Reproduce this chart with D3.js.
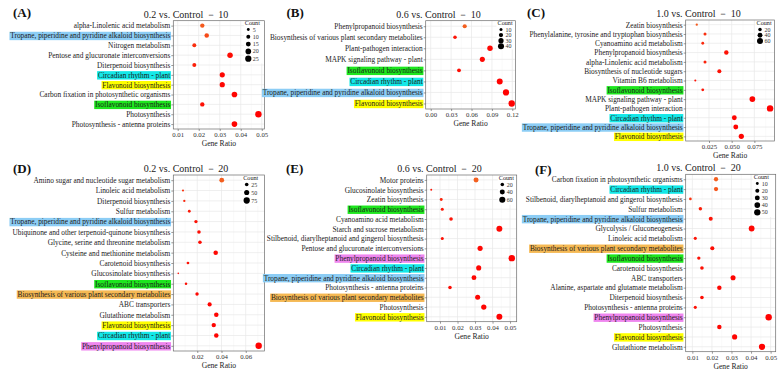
<!DOCTYPE html>
<html>
<head>
<meta charset="utf-8">
<script src="https://cdn.jsdelivr.net/npm/d3@7"></script>
<style>
  body { margin: 0; background: #fff; }
  svg { display: block; font-family: "Liberation Serif", "Times New Roman", serif; }
</style>
</head>
<body>
<div id="chart"></div>
<script>
// ---- data ----
const termsA = ["alpha-Linolenic acid metabolism", "Tropane, piperidine and pyridine alkaloid biosynthesis", "Nitrogen metabolism",
  "Pentose and glucuronate interconversions", "Diterpenoid biosynthesis", "Circadian rhythm - plant", "Flavonoid biosynthesis",
  "Carbon fixation in photosynthetic organisms", "Isoflavonoid biosynthesis", "Photosynthesis", "Photosynthesis - antenna proteins"];
const ratioA = [0.0217, 0.0238, 0.0179, 0.0349, 0.0179, 0.0312, 0.0312, 0.0370, 0.0217, 0.0484, 0.0370];
const countA = [12, 13, 10, 19, 10, 17, 17, 20, 12, 26, 20];
const padjA  = [0.042, 0.035, 0.022, 0.006, 0.015, 0.004, 0.004, 0.003, 0.008, 0.001, 0.002];

const termsB = ["Phenylpropanoid biosynthesis", "Biosynthesis of various plant secondary metabolites", "Plant-pathogen interaction",
  "MAPK signaling pathway - plant", "Isoflavonoid biosynthesis", "Circadian rhythm - plant",
  "Tropane, piperidine and pyridine alkaloid biosynthesis", "Flavonoid biosynthesis"];
const ratioB = [0.050, 0.0357, 0.0872, 0.0759, 0.0416, 0.1015, 0.1107, 0.1191];
const countB = [19, 14, 33, 29, 16, 39, 42, 45];
const padjB  = [0.045, 0.010, 0.004, 0.004, 0.006, 0.001, 0.001, 0.001];

const termsC = ["Zeatin biosynthesis", "Phenylalanine, tyrosine and tryptophan biosynthesis", "Cyanoamino acid metabolism",
  "Phenylpropanoid biosynthesis", "alpha-Linolenic acid metabolism", "Biosynthesis of nucleotide sugars", "Vitamin B6 metabolism",
  "Isoflavonoid biosynthesis", "MAPK signaling pathway - plant", "Plant-pathogen interaction", "Circadian rhythm - plant",
  "Tropane, piperidine and pyridine alkaloid biosynthesis", "Flavonoid biosynthesis"];
const ratioC = [0.0115, 0.0206, 0.0181, 0.0441, 0.0206, 0.0364, 0.0099, 0.0181, 0.0728, 0.0923, 0.0529, 0.0545, 0.0606];
const countC = [9, 15, 13, 33, 15, 27, 7, 13, 54, 68, 39, 40, 45];
const padjC  = [0.042, 0.022, 0.020, 0.008, 0.016, 0.008, 0.008, 0.010, 0.002, 0.001, 0.002, 0.002, 0.002];

const termsD = ["Amino sugar and nucleotide sugar metabolism", "Linoleic acid metabolism", "Diterpenoid biosynthesis", "Sulfur metabolism",
  "Tropane, piperidine and pyridine alkaloid biosynthesis", "Ubiquinone and other terpenoid-quinone biosynthesis",
  "Glycine, serine and threonine metabolism", "Cysteine and methionine metabolism", "Carotenoid biosynthesis",
  "Glucosinolate biosynthesis", "Isoflavonoid biosynthesis", "Biosynthesis of various plant secondary metabolites",
  "ABC transporters", "Glutathione metabolism", "Flavonoid biosynthesis", "Circadian rhythm - plant", "Phenylpropanoid biosynthesis"];
const ratioD = [0.0402, 0.0082, 0.0093, 0.0134, 0.0189, 0.0214, 0.0222, 0.0352, 0.0123, 0.0043, 0.0107, 0.0198, 0.0302, 0.0357, 0.0336, 0.0357, 0.0707];
const countD = [44, 9, 10, 15, 21, 24, 24, 39, 14, 5, 12, 22, 33, 39, 37, 39, 78];
const padjD  = [0.045, 0.025, 0.018, 0.012, 0.008, 0.006, 0.006, 0.004, 0.008, 0.006, 0.006, 0.004, 0.002, 0.002, 0.002, 0.002, 0.001];

const termsE = ["Motor proteins", "Glucosinolate biosynthesis", "Zeatin biosynthesis", "Isoflavonoid biosynthesis", "Cyanoamino acid metabolism",
  "Starch and sucrose metabolism", "Stilbenoid, diarylheptanoid and gingerol biosynthesis", "Pentose and glucuronate interconversions",
  "Phenylpropanoid biosynthesis", "Circadian rhythm - plant", "Tropane, piperidine and pyridine alkaloid biosynthesis",
  "Photosynthesis - antenna proteins", "Biosynthesis of various plant secondary metabolites", "Photosynthesis", "Flavonoid biosynthesis"];
const ratioE = [0.0306, 0.0050, 0.0107, 0.0113, 0.0163, 0.0439, 0.0113, 0.0329, 0.0510, 0.0321, 0.0294, 0.0157, 0.0315, 0.0350, 0.0439];
const countE = [40, 6, 14, 15, 21, 57, 15, 43, 66, 42, 38, 20, 41, 45, 57];
const padjE  = [0.045, 0.012, 0.018, 0.012, 0.010, 0.004, 0.008, 0.004, 0.001, 0.003, 0.003, 0.006, 0.003, 0.002, 0.001];

const termsF = ["Carbon fixation in photosynthetic organisms", "Circadian rhythm - plant", "Stilbenoid, diarylheptanoid and gingerol biosynthesis",
  "Sulfur metabolism", "Tropane, piperidine and pyridine alkaloid biosynthesis", "Glycolysis / Gluconeogenesis", "Linoleic acid metabolism",
  "Biosynthesis of various plant secondary metabolites", "Isoflavonoid biosynthesis", "Carotenoid biosynthesis", "ABC transporters",
  "Alanine, aspartate and glutamate metabolism", "Diterpenoid biosynthesis", "Photosynthesis - antenna proteins",
  "Phenylpropanoid biosynthesis", "Photosynthesis", "Flavonoid biosynthesis", "Glutathione metabolism"];
const ratioF = [0.0221, 0.0221, 0.0090, 0.0141, 0.0194, 0.0403, 0.0115, 0.0202, 0.0133, 0.0149, 0.0308, 0.0238, 0.0149, 0.0115, 0.0490, 0.0238, 0.0316, 0.0456];
const countF = [23, 23, 9, 15, 20, 42, 12, 21, 14, 16, 32, 25, 16, 12, 51, 25, 33, 48];
const padjF  = [0.045, 0.040, 0.025, 0.015, 0.010, 0.004, 0.010, 0.006, 0.008, 0.008, 0.003, 0.004, 0.006, 0.008, 0.001, 0.004, 0.002, 0.001];

// highlighted pathway labels per panel
const hlA = ["Tropane, piperidine and pyridine alkaloid biosynthesis", "Circadian rhythm - plant", "Flavonoid biosynthesis", "Isoflavonoid biosynthesis"];
const hlB = hlA;
const hlC = hlA;
const hlD = [...hlA, "Biosynthesis of various plant secondary metabolites", "Phenylpropanoid biosynthesis"];
const hlE = hlD;
const hlF = hlD;

const legendA = [5, 10, 15, 20, 25];
const legendB = [10, 20, 30, 40];
const legendC = [20, 40, 60];
const legendD = [25, 50, 75];
const legendE = [20, 40, 60];
const legendF = [10, 20, 30, 40, 50];

const ticksA = [0.01, 0.02, 0.03, 0.04, 0.05];
const ticksB = [0.00, 0.03, 0.06, 0.09, 0.12];
const ticksC = [0.025, 0.050, 0.075];
const ticksD = [0.02, 0.04, 0.06];
const ticksE = [0.01, 0.02, 0.03, 0.04, 0.05];
const ticksF = [0.01, 0.02, 0.03, 0.04, 0.05];

const hlColor = {
  "Tropane, piperidine and pyridine alkaloid biosynthesis": "#8ccdf5",
  "Circadian rhythm - plant": "#14e8e8",
  "Flavonoid biosynthesis": "#ffff00",
  "Isoflavonoid biosynthesis": "#1ee61e",
  "Biosynthesis of various plant secondary metabolites": "#f5b954",
  "Phenylpropanoid biosynthesis": "#ef86ef"
};

// ---- layout ----
const W = 780, H = 373;
const panels = [
  { tag: "(A)", title: "0.2 vs. Control \uFF0D 10", terms: termsA, ratio: ratioA, count: countA, padj: padjA, hl: hlA,
    legend: legendA, ticks: ticksA, fmt: ".2f", box: [173.3, 264.5, 20.7, 129], xDom: [0.0079, 0.0513],
    tagPos: [13, 17], lg: { x: 248.3, y: 23.5, step: 7.3 } },
  { tag: "(B)", title: "0.6 vs. Control \uFF0D 10", terms: termsB, ratio: ratioB, count: countB, padj: padjB, hl: hlB,
    legend: legendB, ticks: ticksB, fmt: ".2f", box: [425.7, 515.5, 20.7, 109], xDom: [-0.0074, 0.1247],
    tagPos: [286.5, 17], lg: { x: 501, y: 23.5, step: 5.6 } },
  { tag: "(C)", title: "1.0 vs. Control \uFF0D 10", terms: termsC, ratio: ratioC, count: countC, padj: padjC, hl: hlC,
    legend: legendC, ticks: ticksC, fmt: ".3f", box: [685.7, 774.5, 20, 141], xDom: [-0.0007, 0.0972],
    tagPos: [527, 17], lg: { x: 760, y: 23.5, step: 5.8 } },
  { tag: "(D)", title: "0.2 vs. Control \uFF0D 20", terms: termsD, ratio: ratioD, count: countD, padj: padjD, hl: hlD,
    legend: legendD, ticks: ticksD, fmt: ".2f", box: [173.3, 264.5, 175, 351], xDom: [0.0002, 0.0755],
    tagPos: [13, 172.5], lg: { x: 246.7, y: 178.5, step: 8 } },
  { tag: "(E)", title: "0.6 vs. Control \uFF0D 20", terms: termsE, ratio: ratioE, count: countE, padj: padjE, hl: hlE,
    legend: legendE, ticks: ticksE, fmt: ".2f", box: [426.7, 516.7, 175, 321.7], xDom: [0.0024, 0.0538],
    tagPos: [286, 172.5], lg: { x: 502.3, y: 178.5, step: 7.6 } },
  { tag: "(F)", title: "1.0 vs. Control \uFF0D 20", terms: termsF, ratio: ratioF, count: countF, padj: padjF, hl: hlF,
    legend: legendF, ticks: ticksF, fmt: ".2f", box: [685.7, 775.7, 174.3, 351.7], xDom: [0.0066, 0.0526],
    tagPos: [535, 174], lg: { x: 757.3, y: 177.5, step: 7.2 } }
];

const svg = d3.select("#chart").append("svg")
  .attr("width", W).attr("height", H)
  .attr("viewBox", `0 0 ${W} ${H}`);

svg.append("rect").attr("width", W).attr("height", H).attr("fill", "#fff");

const dotColor = d3.scaleLinear().domain([0, 0.05]).range(["#ff0000", "#f26a22"]);

panels.forEach(drawPanel);

function drawPanel(p) {
  const [x0, x1, y0, y1] = p.box;
  const g = svg.append("g");

  const x = d3.scaleLinear().domain(p.xDom).range([x0, x1]);
  const y = d3.scalePoint().domain(p.terms).range([y0, y1]).padding(0.5);
  const r = d3.scaleSqrt().domain([0, d3.max(p.count)]).range([0, 3.2]);

  // panel
  g.append("rect").attr("x", x0).attr("y", y0).attr("width", x1 - x0).attr("height", y1 - y0).attr("fill", "#fff");

  // minor grid between ticks
  const step = p.ticks[1] - p.ticks[0];
  const minor = [];
  for (let v = p.ticks[0] - step / 2; v <= p.xDom[1]; v += step) {
    if (v >= p.xDom[0]) minor.push(v);
  }
  g.selectAll(".minor").data(minor).join("line")
    .attr("x1", d => x(d)).attr("x2", d => x(d)).attr("y1", y0).attr("y2", y1)
    .attr("stroke", "#f4f4f4").attr("stroke-width", 0.5);

  g.selectAll(".vgrid").data(p.ticks).join("line")
    .attr("x1", d => x(d)).attr("x2", d => x(d)).attr("y1", y0).attr("y2", y1)
    .attr("stroke", "#e8e8e8").attr("stroke-width", 0.7);
  g.selectAll(".hgrid").data(p.terms).join("line")
    .attr("x1", x0).attr("x2", x1).attr("y1", d => y(d)).attr("y2", d => y(d))
    .attr("stroke", "#e8e8e8").attr("stroke-width", 0.7);

  // dots
  const rows = p.terms.map((t, i) => ({ term: t, ratio: p.ratio[i], count: p.count[i], padj: p.padj[i] }));
  g.selectAll(".dot").data(rows).join("circle")
    .attr("cx", d => x(d.ratio)).attr("cy", d => y(d.term))
    .attr("r", d => r(d.count))
    .attr("fill", d => dotColor(d.padj));

  // size legend
  const lg = g.append("g");
  const n = p.legend.length;
  lg.append("rect")
    .attr("x", p.lg.x - 4.5).attr("y", p.lg.y - 4.5)
    .attr("width", x1 - 0.5 - (p.lg.x - 4.5))
    .attr("height", 6 + n * p.lg.step + 2)
    .attr("fill", "#fff");
  lg.append("text").attr("x", p.lg.x - 3.5).attr("y", p.lg.y + 1.8)
    .attr("font-size", 6.2).attr("fill", "#222").text("Count");
  p.legend.forEach((c, i) => {
    const cy = p.lg.y + 6 + i * p.lg.step;
    lg.append("circle").attr("cx", p.lg.x).attr("cy", cy).attr("r", r(c)).attr("fill", "#000");
    lg.append("text").attr("x", p.lg.x + 4.5).attr("y", cy + 2)
      .attr("font-size", 6).attr("fill", "#333").text(c);
  });

  // border
  g.append("rect").attr("x", x0).attr("y", y0).attr("width", x1 - x0).attr("height", y1 - y0)
    .attr("fill", "none").attr("stroke", "#6b6b6b").attr("stroke-width", 0.7);

  // x axis
  const xa = g.append("g").attr("transform", `translate(0,${y1})`)
    .call(d3.axisBottom(x).tickValues(p.ticks).tickSize(2).tickPadding(1).tickFormat(d3.format(p.fmt)))
    .attr("font-family", null).attr("font-size", null);
  xa.select(".domain").remove();
  xa.selectAll("line").attr("stroke", "#555").attr("stroke-width", 0.6);
  xa.selectAll("text").attr("font-size", 6.8).attr("fill", "#333");

  g.append("text").attr("x", (x0 + x1) / 2).attr("y", y1 + 17)
    .attr("text-anchor", "middle").attr("font-size", 7.6).attr("fill", "#222").text("Gene Ratio");

  // y axis with highlighted labels
  const ya = g.append("g").attr("transform", `translate(${x0},0)`)
    .call(d3.axisLeft(y).tickSize(2).tickPadding(1))
    .attr("font-family", null).attr("font-size", null);
  ya.select(".domain").remove();
  ya.selectAll("line").attr("stroke", "#555").attr("stroke-width", 0.6);
  ya.selectAll("text").attr("font-size", 7.35).attr("fill", "#1a1a1a");
  ya.selectAll(".tick").each(function (d) {
    if (!p.hl.includes(d)) return;
    const t = d3.select(this).select("text");
    const bb = t.node().getBBox();
    d3.select(this).insert("rect", "text")
      .attr("x", bb.x - 0.8).attr("y", -4.2)
      .attr("width", bb.width + 1.4).attr("height", 8.4)
      .attr("fill", hlColor[d]);
  });

  // title and tag
  g.append("text").attr("x", x0 - 29.5).attr("y", y0 - 3.2)
    .attr("font-size", 10).attr("fill", "#222").text(p.title);
  g.append("text").attr("x", p.tagPos[0]).attr("y", p.tagPos[1])
    .attr("font-size", 13).attr("font-weight", "bold").attr("fill", "#111").text(p.tag);
}
</script>
</body>
</html>
